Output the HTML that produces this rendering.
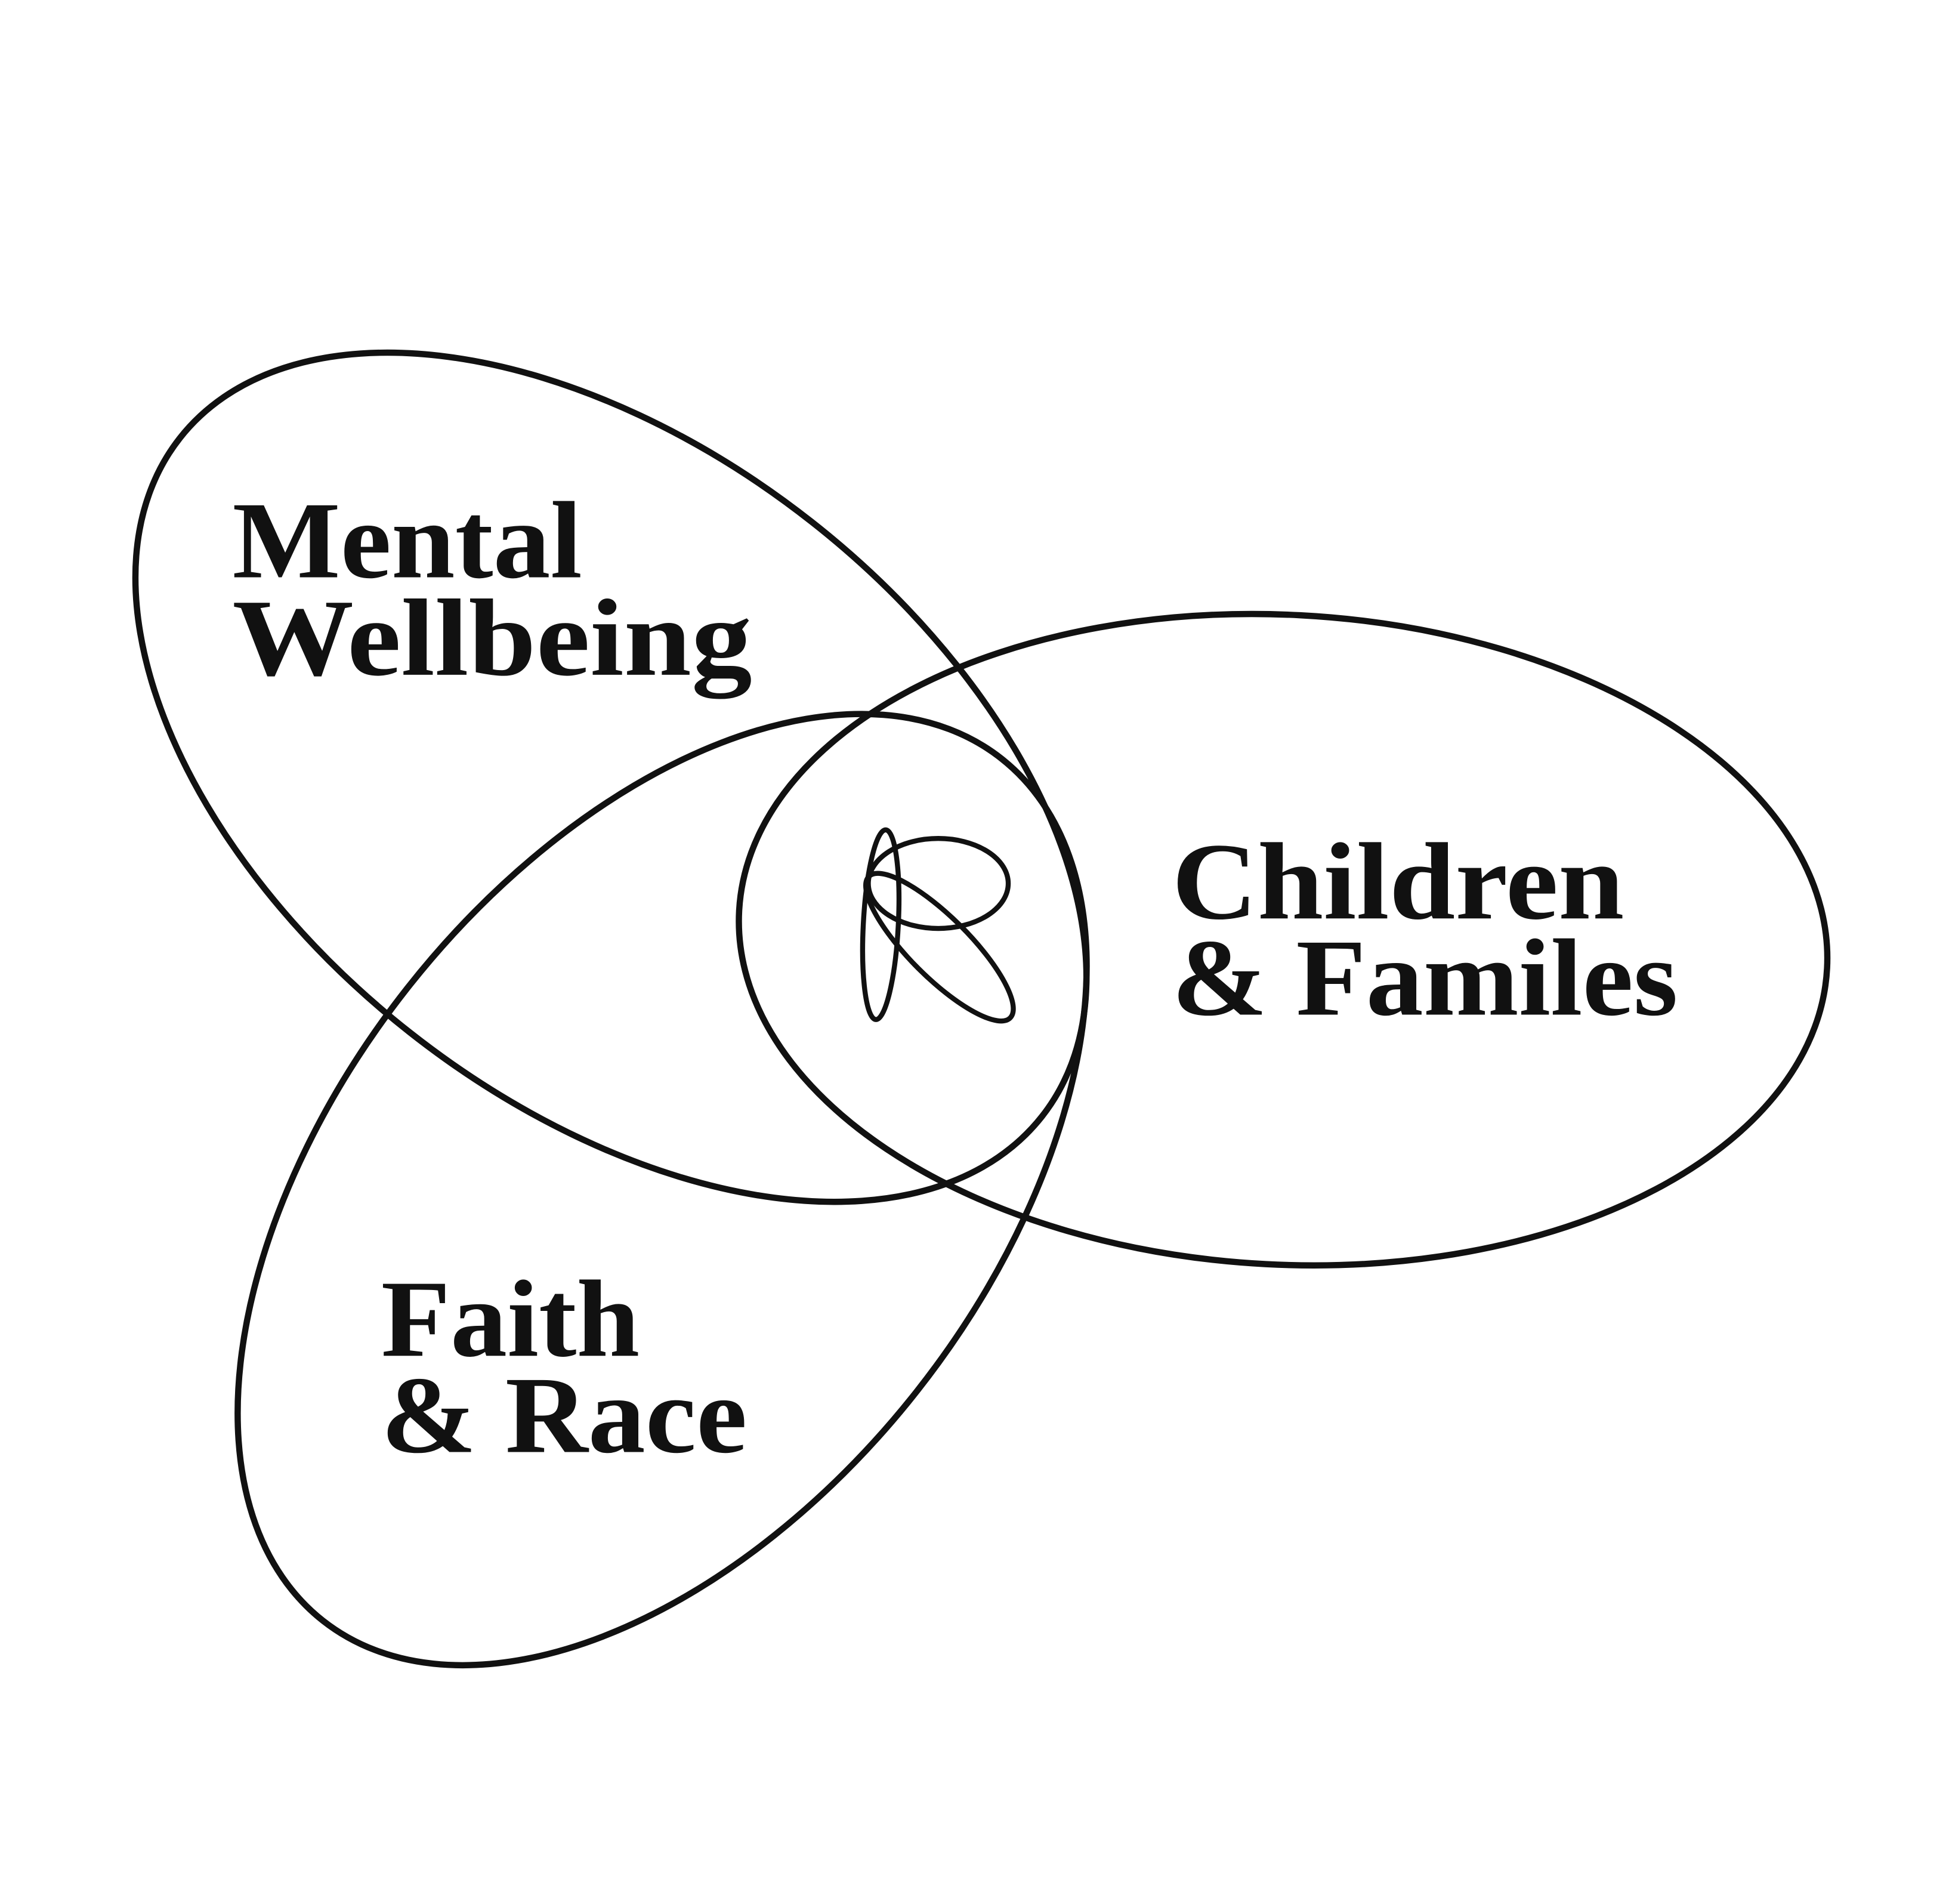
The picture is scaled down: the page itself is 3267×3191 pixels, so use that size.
<!DOCTYPE html>
<html><head><meta charset="utf-8"><style>
html,body{margin:0;padding:0;background:#fff;}
svg{display:block;}
text{font-family:"Liberation Serif",serif;font-weight:bold;font-size:88px;fill:#111;}
</style></head><body>
<svg width="3267" height="3191" viewBox="0 0 1560 1523.7" xmlns="http://www.w3.org/2000/svg">
<g fill="none" stroke="#111" stroke-width="5">
<ellipse cx="489" cy="622" rx="439" ry="260" transform="rotate(38.2 489 622)"/>
<ellipse cx="530" cy="952" rx="439" ry="260" transform="rotate(-51.8 530 952)"/>
<ellipse cx="1027" cy="752" rx="436" ry="260" transform="rotate(3 1027 752)"/>
<g stroke-width="4">
<ellipse cx="705" cy="740" rx="14" ry="76" transform="rotate(3 705 740)"/>
<ellipse cx="751" cy="707" rx="56" ry="36"/>
<ellipse cx="752" cy="758" rx="80" ry="24" transform="rotate(45 752 758)"/>
</g>
</g>
<text x="186" y="462" textLength="280" lengthAdjust="spacingAndGlyphs">Mental</text>
<text x="186" y="540" textLength="416" lengthAdjust="spacingAndGlyphs">Wellbeing</text>
<text x="938" y="735" textLength="362" lengthAdjust="spacingAndGlyphs">Children</text>
<text x="938" y="812" textLength="405" lengthAdjust="spacingAndGlyphs">&amp; Familes</text>
<text x="305" y="1085" textLength="207" lengthAdjust="spacingAndGlyphs">Faith</text>
<text x="305" y="1162" textLength="293" lengthAdjust="spacingAndGlyphs">&amp; Race</text>
</svg>
</body></html>
